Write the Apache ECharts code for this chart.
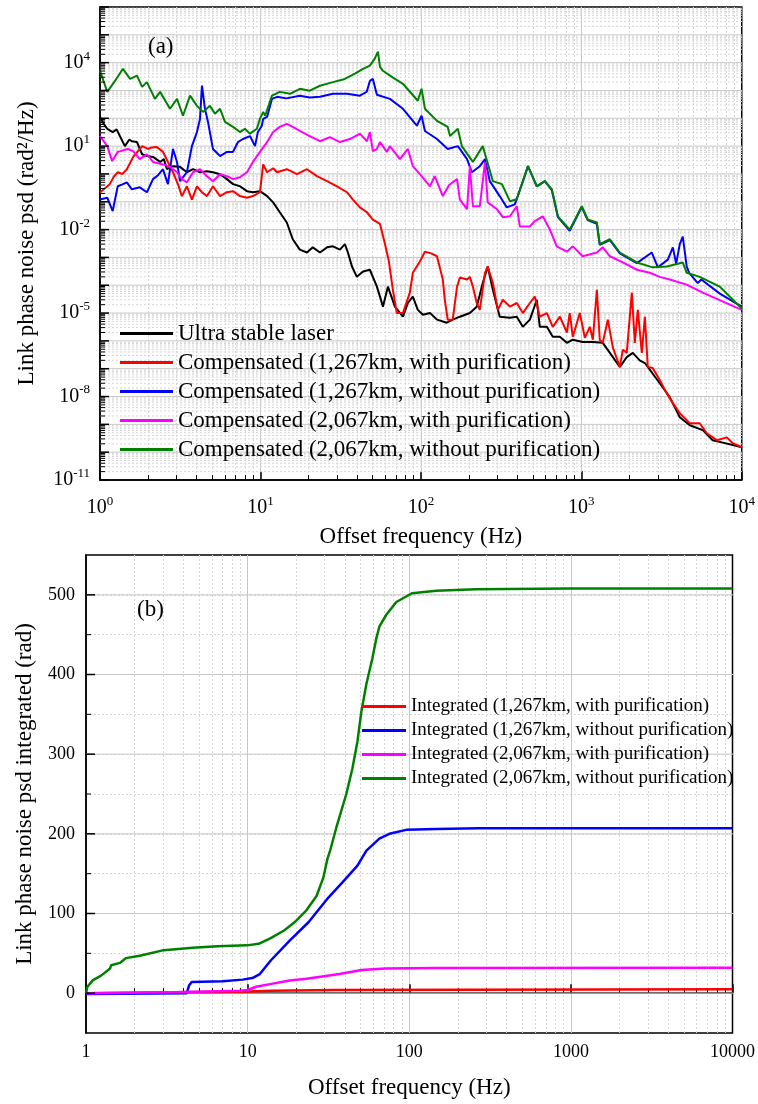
<!DOCTYPE html>
<html>
<head>
<meta charset="utf-8">
<script src="https://cdn.jsdelivr.net/npm/echarts@6/dist/echarts.min.js"></script>
<style>
  html, body { margin: 0; padding: 0; background: #fff; }
  #chart { width: 758px; height: 1104px; }
</style>
</head>
<body>
<div id="chart"></div>
<script>
const FONT = "'Liberation Serif', 'Times New Roman', serif";

// ---- panel (a): phase noise psd, [frequency Hz, rad^2/Hz]
const psdNames = [
  'Ultra stable laser',
  'Compensated (1,267km, with purification)',
  'Compensated (1,267km, without purification)',
  'Compensated (2,067km, with purification)',
  'Compensated (2,067km, without purification)'
];
const psdTickValues = [1e-11, 1e-8, 1e-5, 1e-2, 1e1, 1e4];

const ultraStable = [
  [1.00, 112], [1.06, 60], [1.11, 42], [1.20, 32], [1.27, 40], [1.33, 23], [1.43, 10], [1.52, 17],
  [1.58, 15], [1.70, 14], [1.83, 5.1], [1.96, 4.4], [2.14, 4.1], [2.37, 2.7], [2.50, 3.4], [2.61, 1.5],
  [2.85, 1.9], [3.15, 1.8], [3.48, 1.15], [3.80, 1.48], [4.20, 1.15], [4.64, 1.26], [5.06, 1.15],
  [5.60, 0.98], [6.18, 0.65], [6.75, 0.43], [7.45, 0.36], [8.24, 0.24], [8.98, 0.22], [9.93, 0.24],
  [11.0, 0.16], [12.0, 0.095], [13.2, 0.042], [14.6, 0.018], [15.9, 0.0045], [17.6, 0.0019],
  [19.5, 0.0015], [21.2, 0.0023], [23.5, 0.0015], [26.0, 0.0023], [28.3, 0.0025], [31.3, 0.0019],
  [33.6, 0.0030], [35.1, 0.0015], [37.2, 4.7e-4], [39.9, 2.0e-4], [43.6, 3.1e-4], [48.1, 3.6e-4],
  [53.2, 8.9e-5], [55.6, 3.9e-5], [58.0, 1.7e-5], [62.3, 8.9e-5], [68.9, 1.7e-5], [77.3, 7.4e-6],
  [83.0, 2.3e-5], [89.1, 3.9e-5], [95.7, 1.3e-5], [103, 8.7e-6], [114, 1.0e-5], [126, 5.8e-6],
  [145, 4.5e-6], [158, 5.8e-6], [175, 7.4e-6], [202, 1.0e-5], [223, 1.7e-5], [243, 1.2e-4],
  [261, 4.7e-4], [281, 6.9e-5], [310, 7.4e-6], [359, 6.8e-6], [396, 7.4e-6], [432, 3.2e-6],
  [478, 5.8e-6], [528, 3.0e-5], [551, 3.2e-6], [610, 3.2e-6], [664, 1.4e-6], [735, 1.4e-6],
  [813, 8.5e-7], [885, 1.1e-6], [1020, 9.1e-7], [1180, 9.1e-7], [1360, 8.5e-7], [1507, 3.7e-7],
  [1738, 1.15e-7], [1920, 2.6e-7], [2094, 3.7e-7], [2312, 2.0e-7], [2490, 1.6e-7], [2597, 1.15e-7],
  [3083, 3.0e-8], [3556, 9.5e-9], [4110, 1.8e-9], [4745, 9.3e-10], [5715, 6.2e-10], [6590, 2.7e-10],
  [7620, 2.2e-10], [8790, 1.8e-10], [10000, 1.5e-10]
];

const comp1267With = [
  [1.00, 0.22], [1.07, 0.30], [1.15, 0.43], [1.22, 0.8], [1.29, 1.15], [1.38, 1.0], [1.47, 1.48],
  [1.61, 4.1], [1.72, 6.5], [1.83, 10], [1.99, 7.9], [2.10, 9.0], [2.26, 9.3], [2.47, 6.2], [2.65, 2.7],
  [2.85, 1.15], [3.06, 0.43], [3.24, 0.16], [3.48, 0.36], [3.74, 0.12], [4.02, 0.36], [4.32, 0.22],
  [4.64, 0.16], [5.06, 0.36], [5.60, 0.16], [6.18, 0.22], [6.75, 0.24], [7.45, 0.16], [8.24, 0.14],
  [8.98, 0.16], [9.93, 0.22], [10.4, 2.2], [11.0, 1.15], [12.0, 1.6], [12.7, 1.15], [13.6, 1.3],
  [14.6, 1.48], [16.9, 0.98], [19.5, 1.48], [22.5, 0.83], [26.0, 0.55], [30.0, 0.36], [34.6, 0.22],
  [37.7, 0.12], [41.7, 0.063], [46.1, 0.042], [50.2, 0.023], [55.6, 0.016], [59.7, 0.0031],
  [63.2, 7.1e-4], [66.9, 6.9e-5], [70.8, 1.0e-5], [77.3, 1.0e-5], [85.4, 5.4e-5], [89.1, 2.8e-4],
  [98.6, 7.1e-4], [106, 1.6e-3], [116, 1.4e-3], [126, 1.1e-3], [137, 1.6e-4], [141, 3.0e-5],
  [147, 5.8e-6], [158, 5.8e-6], [168, 8.9e-5], [175, 1.9e-4], [194, 1.6e-4], [202, 2.0e-4],
  [211, 8.9e-5], [223, 2.3e-5], [233, 1.3e-5], [251, 2.8e-4], [261, 4.7e-4], [281, 1.2e-4],
  [302, 1.3e-5], [324, 3.0e-5], [359, 1.7e-5], [396, 2.3e-5], [432, 1.0e-5], [478, 2.3e-5],
  [513, 3.9e-5], [551, 7.4e-6], [610, 1.0e-5], [664, 3.2e-6], [735, 7.4e-6], [813, 2.0e-6],
  [847, 1.0e-5], [885, 1.4e-6], [979, 1.0e-5], [1052, 1.3e-6], [1130, 3.2e-6], [1180, 1.1e-6],
  [1250, 6.9e-5], [1303, 1.1e-6], [1360, 8.5e-7], [1463, 5.8e-6], [1570, 6.0e-7], [1738, 1.15e-7],
  [1815, 4.8e-7], [1920, 3.7e-7], [2065, 5.4e-5], [2155, 8.5e-7], [2250, 1.3e-5], [2383, 3.7e-7],
  [2490, 7.4e-6], [2597, 1.15e-7], [2786, 1.07e-7], [3083, 3.9e-8], [3412, 1.3e-8], [3720, 5.8e-9],
  [4110, 2.5e-9], [4745, 1.1e-9], [5470, 1.1e-9], [6053, 4.8e-10], [6985, 2.7e-10], [8070, 3.4e-10],
  [8790, 2.1e-10], [10000, 1.5e-10]
];

const comp1267Without = [
  [1.00, 0.12], [1.11, 0.14], [1.20, 0.046], [1.29, 0.36], [1.38, 0.42], [1.47, 0.50], [1.58, 0.28],
  [1.77, 0.33], [1.96, 0.22], [2.14, 0.65], [2.30, 0.9], [2.47, 1.48], [2.65, 0.43], [2.85, 7.9],
  [3.02, 2.7], [3.15, 0.55], [3.48, 1.15], [3.74, 10], [4.02, 32], [4.20, 95], [4.32, 1.5e3],
  [4.51, 220], [4.71, 74], [5.06, 7.9], [5.60, 4.4], [6.18, 6.2], [6.75, 6.2], [7.24, 14], [7.78, 18],
  [8.61, 23], [9.25, 10], [9.64, 32], [10.2, 54], [10.4, 95], [11.0, 112], [11.8, 500], [12.7, 590],
  [14.5, 520], [17.6, 650], [20.3, 560], [23.5, 590], [28.3, 760], [34.6, 760], [41.7, 650],
  [46.0, 900], [48.1, 2.2e3], [50.2, 2.6e3], [53.2, 700], [64.1, 500], [77.3, 220], [94.4, 54],
  [101, 123], [106, 35], [126, 18], [147, 7.9], [170, 10], [194, 3.4], [208, 1.15], [233, 1.9],
  [251, 3.4], [269, 0.55], [310, 0.16], [343, 0.063], [385, 0.081], [430, 0.5], [465, 1.9],
  [528, 0.36], [593, 0.55], [655, 0.26], [715, 0.028], [847, 0.009], [1007, 0.065], [1096, 0.022],
  [1250, 0.016], [1303, 0.0028], [1507, 0.0042], [1738, 0.0014], [2218, 6.2e-4], [2750, 0.0015],
  [3000, 4.4e-4], [3460, 8.3e-4], [3720, 0.0023], [3900, 6.0e-4], [4110, 0.003], [4290, 0.0056],
  [4540, 4.7e-4], [4700, 2.8e-4], [5320, 1.2e-4], [5600, 1.6e-4], [7300, 5.0e-5], [10000, 1.7e-5]
];

const comp2067With = [
  [1.00, 23], [1.11, 10], [1.19, 2.9], [1.29, 6.2], [1.49, 7.9], [1.61, 6.6], [1.77, 3.4], [1.96, 5.1],
  [2.14, 2.7], [2.47, 2.2], [2.73, 1.8], [3.02, 1.15], [3.24, 0.65], [3.48, 0.50], [3.80, 1.15],
  [4.20, 1.48], [4.64, 0.83], [5.06, 0.55], [5.60, 0.98], [6.18, 0.83], [6.75, 0.65], [7.45, 0.76],
  [8.24, 1.15], [8.98, 2.7], [9.93, 6.2], [11.0, 14], [12.0, 32], [13.2, 49], [14.6, 63], [15.9, 49],
  [17.6, 35], [20.3, 23], [23.5, 15], [27.1, 21], [31.3, 14], [36.1, 18], [41.7, 28], [46.1, 15],
  [48.1, 32], [50.2, 6.6], [53.2, 7.9], [55.6, 14], [61.4, 6.2], [64.1, 10], [74.0, 3.4], [83.0, 7.9],
  [89.1, 1.9], [101, 0.83], [114, 0.36], [122, 0.83], [137, 0.16], [150, 0.4], [168, 0.65],
  [175, 0.12], [194, 0.054], [202, 1.9], [211, 0.069], [233, 0.069], [251, 2.7], [261, 0.095],
  [298, 0.054], [324, 0.028], [359, 0.030], [396, 0.069], [414, 0.013], [478, 0.013], [513, 0.020],
  [575, 0.030], [637, 0.010], [703, 0.0025], [813, 0.0016], [885, 0.0025], [1020, 0.0011],
  [1250, 0.0015], [1360, 0.0023], [1507, 0.0011], [1815, 6.6e-4], [2218, 3.6e-4], [2673, 2.8e-4],
  [3083, 2.0e-4], [3556, 1.6e-4], [4540, 1.05e-4], [5715, 5.4e-5], [10000, 1.3e-5]
];

const comp2067Without = [
  [1.00, 5.1e3], [1.11, 890], [1.24, 2.2e3], [1.39, 6.0e3], [1.54, 2.6e3], [1.70, 3.4e3],
  [1.83, 1.35e3], [1.96, 2.0e3], [2.20, 500], [2.37, 890], [2.73, 220], [3.02, 500], [3.29, 123],
  [3.64, 650], [4.02, 280], [4.39, 170], [4.84, 280], [5.21, 145], [5.60, 220], [6.01, 74],
  [6.75, 49], [7.45, 32], [8.0, 42], [8.61, 28], [9.5, 42], [9.93, 95], [10.4, 170], [10.7, 123],
  [11.8, 650], [13.2, 890], [15.3, 760], [17.6, 1.15e3], [20.3, 980], [23.5, 1.48e3], [28.3, 2.0e3],
  [33.6, 2.6e3], [38.8, 4.0e3], [43.6, 6.0e3], [48.1, 7.8e3], [51.6, 1.4e4], [54.0, 2.5e4],
  [55.6, 7.0e3], [58.0, 5.1e3], [67.0, 2.9e3], [77.3, 1.74e3], [95.7, 427], [101, 1.15e3], [106, 220],
  [126, 81], [147, 49], [152, 23], [170, 42], [180, 10], [211, 2.7], [243, 10], [281, 0.55],
  [320, 0.43], [359, 0.105], [396, 0.123], [465, 1.9], [528, 0.36], [593, 0.55], [655, 0.28],
  [715, 0.030], [847, 0.010], [1007, 0.069], [1096, 0.023], [1250, 0.018], [1303, 0.0030],
  [1507, 0.0045], [1738, 0.0015], [2218, 6.6e-4], [2786, 4.4e-4], [3412, 4.7e-4], [4285, 6.6e-4],
  [4539, 2.8e-4], [5470, 2.0e-4], [7295, 8.9e-5], [10000, 1.45e-5]
];

// ---- panel (b): integrated phase noise, [frequency Hz, rad]
const intNames = [
  'Integrated (1,267km, with purification)',
  'Integrated (1,267km, without purification)',
  'Integrated (2,067km, with purification)',
  'Integrated (2,067km, without purification)'
];
const int1267With = [[1, 0], [3.5, 1], [6, 1.5], [10, 2], [14, 3], [35, 4], [36, 5], [10000, 5]];
const int1267Without = [
  [1, -1], [4.2, 0], [4.35, 10], [4.51, 14], [7.01, 15], [9.31, 17], [10.7, 19], [11.9, 24],
  [13.9, 41], [18.2, 66], [23.8, 89], [31.6, 120], [38.6, 139], [47.8, 160], [54.3, 179],
  [65.3, 194], [75.3, 200], [95.8, 205], [147, 206], [270, 207], [10000, 207]
];
const int2067With = [
  [1, 0], [3.45, 1], [8.9, 3], [10, 4], [11.3, 8], [14.3, 12], [18.2, 16], [23.1, 18], [29, 21],
  [37, 24], [50.6, 29], [71, 31], [142, 31.5], [10000, 32]
];
const int2067Without = [
  [1, 0], [1.02, 8], [1.10, 16], [1.24, 22], [1.41, 31], [1.43, 35], [1.62, 38], [1.77, 44],
  [2.15, 47], [3.03, 54], [4.57, 57], [6.53, 59], [9.86, 60], [11.7, 62], [13.9, 69], [16.9, 79],
  [19.5, 89], [23.1, 104], [26.7, 122], [29.4, 145], [31.2, 169], [32.5, 180], [35.4, 208],
  [40.8, 250], [44.5, 282], [47.8, 316], [50.6, 354], [54.3, 388], [59.1, 420], [62.5, 445],
  [65.3, 460], [72.1, 475], [83.2, 491], [104, 502], [147, 505], [259, 507], [1000, 508], [10000, 508]
];

const lineColors = ['#000000', '#ff0000', '#0000ff', '#ff00ff', '#008000'];

const G1 = { left: 100, top: 7, width: 642, height: 473 };
const G2 = { left: 86, top: 555, width: 648, height: 478 };

const supRich = {
  b: { fontSize: 20, fontFamily: FONT, color: '#000', lineHeight: 26 },
  s: { fontSize: 13, fontFamily: FONT, color: '#000', lineHeight: 13, verticalAlign: 'top' }
};
function pow10Label(v, fallback) {
  const e = v > 0 ? Math.round(Math.log10(v)) : fallback;
  return '{b|10}{s|' + e + '}';
}

const majorGrid = { color: '#c8c8c8', width: 1 };
const minorGrid = { color: '#d6d6d6', width: 1, type: [2, 2] };

let chart = echarts.init(document.getElementById('chart'));

let option = {
  animation: false,
  backgroundColor: '#fff',
  textStyle: { fontFamily: FONT },
  title: [
    { text: '(a)', left: 148, top: 35, padding: 0,
      textStyle: { fontSize: 23, fontWeight: 'normal', fontFamily: FONT, color: '#000' } },
    { text: '(b)', left: 137, top: 598, padding: 0,
      textStyle: { fontSize: 23, fontWeight: 'normal', fontFamily: FONT, color: '#000' } }
  ],
  grid: [
    { left: G1.left, top: G1.top, width: G1.width, height: G1.height,
      show: true, borderColor: '#000', borderWidth: 1.5, containLabel: false },
    { left: G2.left, top: G2.top, width: G2.width, height: G2.height,
      show: true, borderColor: '#000', borderWidth: 1.5, containLabel: false }
  ],
  legend: [
    {
      data: psdNames, orient: 'vertical', left: 120, top: 322, padding: 0,
      icon: 'rect', itemWidth: 53, itemHeight: 3, itemGap: 6, selectedMode: false,
      textStyle: { fontSize: 23, fontFamily: FONT, color: '#000' }
    },
    {
      data: intNames, orient: 'vertical', left: 362, top: 697, padding: 0,
      icon: 'rect', itemWidth: 44, itemHeight: 3, itemGap: 5, selectedMode: false,
      textStyle: { fontSize: 19, fontFamily: FONT, color: '#000' }
    }
  ],
  xAxis: [
    {
      type: 'log', gridIndex: 0, min: 1, max: 10000, logBase: 10,
      name: 'Offset frequency (Hz)', nameLocation: 'middle', nameGap: 45,
      nameTextStyle: { fontSize: 23, fontFamily: FONT, color: '#000' },
      axisLine: { lineStyle: { color: '#000', width: 1.5 } },
      axisTick: { inside: true, length: 9, lineStyle: { color: '#000', width: 1.5 } },
      minorTick: { show: true, splitNumber: 9, length: 5, lineStyle: { color: '#000', width: 1 } },
      axisLabel: { margin: 15, formatter: v => pow10Label(v, 0), rich: supRich },
      splitLine: { show: true, showMinLine: false, showMaxLine: false, lineStyle: majorGrid },
      minorSplitLine: { show: true, lineStyle: minorGrid }
    },
    {
      type: 'log', gridIndex: 1, min: 1, max: 10000, logBase: 10,
      name: 'Offset frequency (Hz)', nameLocation: 'middle', nameGap: 43,
      nameTextStyle: { fontSize: 23, fontFamily: FONT, color: '#000' },
      axisLine: { lineStyle: { color: '#000', width: 1.5 } },
      axisTick: { inside: true, length: 9, lineStyle: { color: '#000', width: 1.5 } },
      minorTick: { show: true, splitNumber: 9, length: 5, lineStyle: { color: '#000', width: 1 } },
      axisLabel: { margin: 10, fontSize: 18, fontFamily: FONT, color: '#000',
        formatter: v => String(Math.round(v)) },
      splitLine: { show: true, showMinLine: false, showMaxLine: false, lineStyle: majorGrid },
      minorSplitLine: { show: true, lineStyle: minorGrid }
    }
  ],
  yAxis: [
    {
      type: 'log', gridIndex: 0, min: 1e-11, max: 1e6, logBase: 10,
      name: 'Link phase noise psd (rad²/Hz)', nameLocation: 'middle', nameGap: 62,
      nameTextStyle: { fontSize: 23, fontFamily: FONT, color: '#000' },
      axisLine: { lineStyle: { color: '#000', width: 1.5 } },
      axisTick: { show: false },
      axisLabel: { margin: 10, customValues: psdTickValues,
        formatter: v => pow10Label(v, -11), rich: supRich },
      splitLine: { show: false }
    },
    {
      type: 'value', gridIndex: 1, min: -50, max: 550, interval: 50,
      name: 'Link phase noise psd integrated (rad)', nameLocation: 'middle', nameGap: 50,
      nameTextStyle: { fontSize: 23, fontFamily: FONT, color: '#000' },
      axisLine: { lineStyle: { color: '#000', width: 1.5 } },
      axisTick: { show: false },
      axisLabel: { margin: 11, fontSize: 18, fontFamily: FONT, color: '#000',
        formatter: v => (v % 100 === 0 ? String(v) : '') },
      splitLine: { show: true, showMinLine: false, showMaxLine: false, lineStyle: minorGrid }
    }
  ],
  series: []
};

const psdData = [ultraStable, comp1267With, comp1267Without, comp2067With, comp2067Without];
psdData.forEach((d, i) => {
  option.series.push({
    name: psdNames[i], type: 'line', xAxisIndex: 0, yAxisIndex: 0,
    data: d, symbol: 'none', showSymbol: false, z: 2,
    lineStyle: { color: lineColors[i], width: 2 }, itemStyle: { color: lineColors[i] }
  });
});
const intData = [int1267With, int1267Without, int2067With, int2067Without];
intData.forEach((d, i) => {
  option.series.push({
    name: intNames[i], type: 'line', xAxisIndex: 1, yAxisIndex: 1,
    data: d, symbol: 'none', showSymbol: false, z: 2,
    lineStyle: { color: lineColors[i + 1], width: 2.5 }, itemStyle: { color: lineColors[i + 1] }
  });
});

chart.setOption(option);

// decade / minor gridlines and ticks of the psd axis, and the 100-rad lines of panel (b)
let els = [];
function hLine(y, x1, x2, style, z) {
  els.push({ type: 'line', silent: true, z: z,
    shape: { x1: x1, y1: y, x2: x2, y2: y }, style: style });
}
for (let e = -11; e <= 6; e++) {
  for (let m = 1; m <= 9; m++) {
    if (e === 6 && m > 1) break;
    const y = chart.convertToPixel({ yAxisIndex: 0 }, m * Math.pow(10, e));
    if (m === 1) {
      if (e > -11 && e < 6) {
        hLine(y, G1.left, G1.left + G1.width, { stroke: majorGrid.color, lineWidth: 1 }, 1);
      }
      hLine(y, G1.left, G1.left + 9, { stroke: '#000', lineWidth: 1.5 }, 5);
    } else {
      hLine(y, G1.left, G1.left + G1.width, { stroke: minorGrid.color, lineWidth: 1, lineDash: [2, 2] }, 1);
      hLine(y, G1.left, G1.left + 5, { stroke: '#000', lineWidth: 1 }, 5);
    }
  }
}
for (let v = -50; v <= 550; v += 50) {
  const y = chart.convertToPixel({ yAxisIndex: 1 }, v);
  if (v % 100 === 0) {
    hLine(y, G2.left, G2.left + G2.width, { stroke: majorGrid.color, lineWidth: 1 }, 1);
    hLine(y, G2.left, G2.left + 9, { stroke: '#000', lineWidth: 1.5 }, 5);
  } else if (v > -50 && v < 550) {
    hLine(y, G2.left, G2.left + 5, { stroke: '#000', lineWidth: 1 }, 5);
  }
}
chart.setOption({ graphic: els });
</script>
</body>
</html>
